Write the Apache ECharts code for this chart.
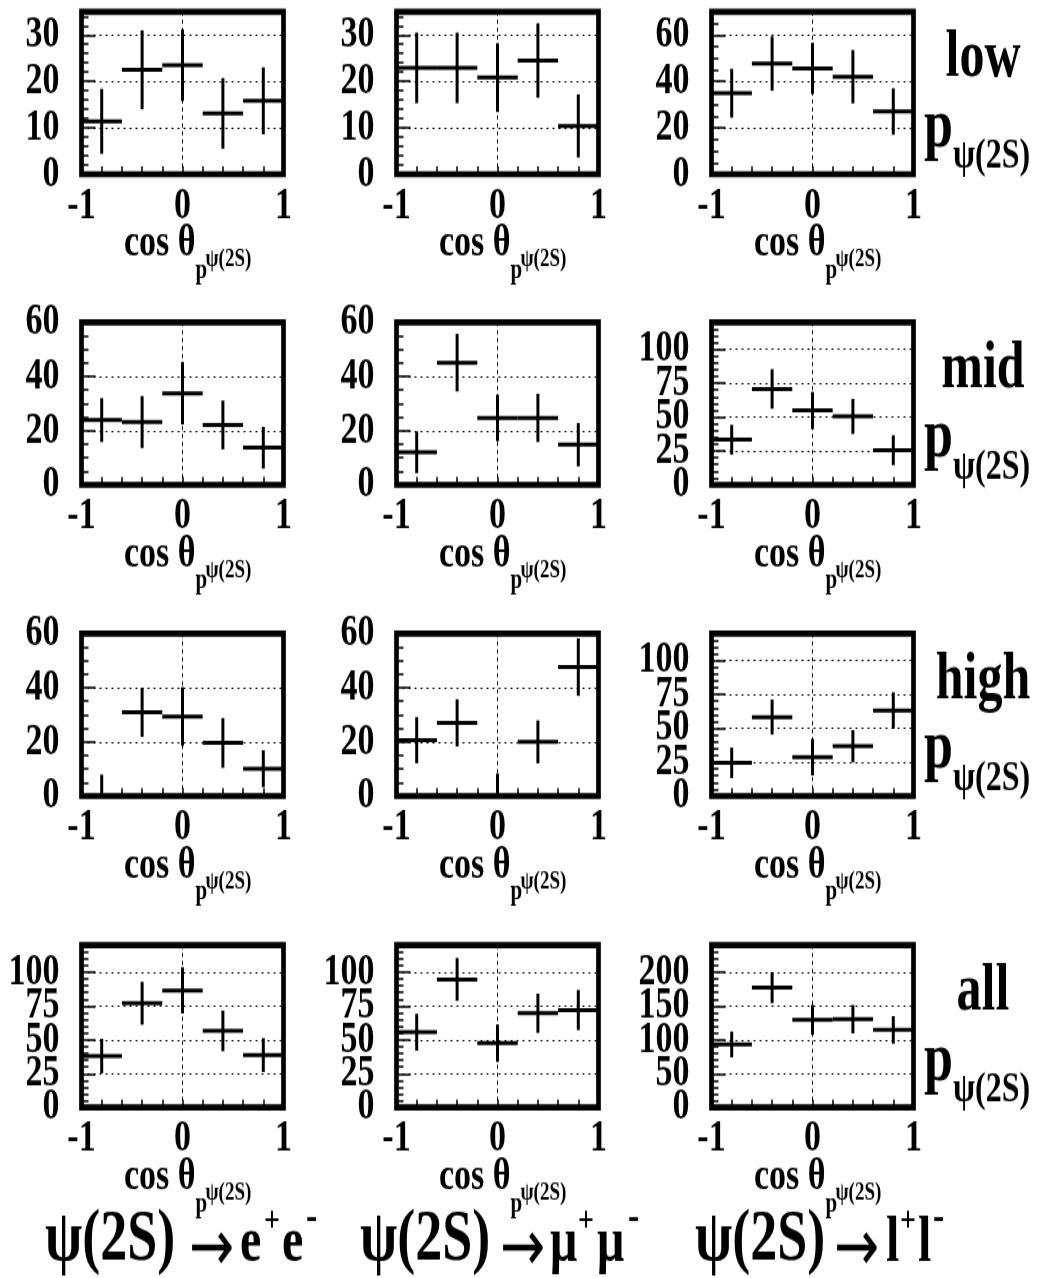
<!DOCTYPE html>
<html><head><meta charset="utf-8">
<script src="https://cdn.jsdelivr.net/npm/echarts@6/dist/echarts.min.js"></script>
<style>
html,body{margin:0;padding:0;background:#fff;overflow:hidden;}
#wrap{width:1041px;height:1278px;overflow:hidden;}
#chart{width:1041px;height:961px;transform:scaleY(1.33);transform-origin:0 0;}
</style></head><body><div id="wrap"><div id="chart"></div></div>
<script>
// ---------------- data ----------------
const binCenters = [-0.8, -0.4, 0, 0.4, 0.8];
const binHalfWidth = 0.2;
const xTickLabels = [-1, 0, 1];
const rowNames = ['low', 'mid', 'high', 'all'];

// low p_psi(2S)
const ee_low = [11.4, 22.5, 23.5, 13.1, 15.8];
const ee_low_err = [7.0, 8.5, 7.7, 7.6, 7.2];
const mm_low = [22.9, 22.9, 20.8, 24.5, 10.4];
const mm_low_err = [7.6, 7.6, 7.4, 8.0, 6.8];
const ll_low = [34.9, 47.7, 45.6, 42.0, 27.0];
const ll_low_err = [10.5, 11.7, 11.0, 11.5, 10.0];
// mid
const ee_mid = [23.9, 23.2, 33.8, 22.1, 13.7];
const ee_mid_err = [8.1, 9.6, 11.5, 9.0, 7.7];
const mm_mid = [12.0, 45.1, 24.7, 24.7, 14.8];
const mm_mid_err = [7.7, 10.6, 8.6, 8.9, 8.0];
const ll_mid = [33.3, 70.8, 54.9, 50.5, 25.5];
const ll_mid_err = [11.0, 14.6, 13.7, 13.0, 11.0];
// high
const ee_high = [0, 30.9, 29.4, 19.6, 10.1];
const ee_high_err = [7.9, 9.1, 10.8, 9.2, 6.8];
const mm_high = [20.6, 27.0, 0, 20.0, 47.6];
const mm_high_err = [8.5, 8.7, 8.3, 7.9, 10.6];
const ll_high = [24.5, 58.3, 28.7, 36.8, 63.2];
const ll_high_err = [11.2, 12.9, 13.5, 11.9, 13.4];
// all
const ee_all = [38.0, 77.0, 86.5, 56.6, 38.7];
const ee_all_err = [12.7, 15.8, 17.0, 15.0, 12.5];
const mm_all = [55.6, 94.6, 47.5, 69.6, 72.0];
const mm_all_err = [13.6, 15.8, 13.8, 14.5, 14.8];
const ll_all = [93.1, 177.0, 129.4, 130.4, 114.7];
const ll_all_err = [19.0, 23.0, 22.0, 21.0, 20.3];

// y axes: max, labelled step, minor step (rows x columns)
const yMax   = [[35, 35, 70], [60, 60, 120], [60, 60, 120], [120, 120, 240]];
const yStep  = [[10, 10, 20], [20, 20, 25], [20, 20, 25], [25, 25, 50]];
const yMinor = [[2, 2, 5], [5, 5, 5], [5, 5, 5], [5, 5, 10]];

const panels = [
  [[ee_low, ee_low_err], [mm_low, mm_low_err], [ll_low, ll_low_err]],
  [[ee_mid, ee_mid_err], [mm_mid, mm_mid_err], [ll_mid, ll_mid_err]],
  [[ee_high, ee_high_err], [mm_high, mm_high_err], [ll_high, ll_high_err]],
  [[ee_all, ee_all_err], [mm_all, mm_all_err], [ll_all, ll_all_err]]
];

// ---------------- layout ----------------
const S = 1.33; // vertical stretch of the whole picture
const FONT = '"Liberation Serif", "Times New Roman", serif';
const colLeft = [81.5, 396.5, 711.5], plotW = 202;
const rowTop = [11.7, 322.3, 633.5, 945], plotH = 162.5;

function renderCross(params, api) {
  const x = api.value(0), y = api.value(1), e = api.value(2);
  const cs = params.coordSys;
  const pL = api.coord([x - binHalfWidth, y]);
  const pR = api.coord([x + binHalfWidth, y]);
  const pT = api.coord([x, y + e]);
  const pB = api.coord([x, y - e]);
  const top = cs.y, bot = cs.y + cs.height;
  const cy = v => Math.max(top, Math.min(bot, v));
  const children = [];
  const yc = pL[1];
  if (yc >= top - 0.5 && yc <= bot + 0.5) {
    children.push({type: 'line', shape: {x1: pL[0], y1: yc, x2: pR[0], y2: yc},
      style: {stroke: '#000', lineWidth: 3}});
  }
  children.push({type: 'line', shape: {x1: pT[0], y1: cy(pT[1]), x2: pB[0], y2: cy(pB[1])},
    style: {stroke: '#000', lineWidth: 3}});
  return {type: 'group', children};
}

function T(text, x, baselinePage, size, align, weight, family) {
  return {type: 'text', x: x, y: baselinePage / S - 0.34 * size, silent: true, z: 10,
    style: {text: text, fill: '#000', fontFamily: family || FONT, fontWeight: weight || 'bold', fontSize: size,
      align: align || 'left', verticalAlign: 'middle'}};
}
function M(text, x, centerPage, size, align, weight, family) {
  return {type: 'text', x: x, y: centerPage / S, silent: true, z: 10,
    style: {text: text, fill: '#000', fontFamily: family || FONT, fontWeight: weight || 'bold', fontSize: size,
      align: align || 'left', verticalAlign: 'middle'}};
}

const labelStyle = {fontFamily: FONT, fontWeight: 'bold', fontSize: 34, color: '#000'};
const grids = [], xAxes = [], yAxes = [], series = [], graphics = [];
for (let r = 0; r < 4; r++) {
  for (let c = 0; c < 3; c++) {
    const i = r * 3 + c;
    const step = yStep[r][c];
    grids.push({left: colLeft[c], top: rowTop[r] / S, width: plotW, height: plotH / S,
      show: true, borderColor: '#000', borderWidth: 4.7, backgroundColor: 'transparent'});
    xAxes.push({gridIndex: i, type: 'value', min: -1, max: 1, interval: 1, position: 'bottom',
      axisLine: {show: false, onZero: false},
      axisTick: {show: true, inside: true, length: 6, lineStyle: {color: '#000', width: 1.5}},
      minorTick: {show: true, splitNumber: 5, length: 6, lineStyle: {color: '#000', width: 1.5}},
      splitLine: {show: true, lineStyle: {color: '#000', width: 1, type: [3, 3]}},
      axisLabel: Object.assign({margin: 7, showMinLabel: true, showMaxLabel: true,
        formatter: v => xTickLabels.indexOf(v) >= 0 ? String(v) : ''}, labelStyle)});
    // main y axis: ticks, grid lines and all labels except the one at zero
    yAxes.push({gridIndex: i, type: 'value', min: 0, max: yMax[r][c], interval: step,
      position: 'left', offset: 0,
      axisLine: {show: false, onZero: false},
      axisTick: {show: true, inside: true, length: 14, lineStyle: {color: '#000', width: 1.5}},
      minorTick: {show: true, splitNumber: Math.round(step / yMinor[r][c]), length: 7,
        lineStyle: {color: '#000', width: 1.5}},
      splitLine: {show: true, lineStyle: {color: '#000', width: 1, type: [2, 4]}},
      axisLabel: Object.assign({margin: 22, hideOverlap: false,
        formatter: v => (v > 0 && Math.abs(v % step) < 1e-9) ? String(v) : ''}, labelStyle)});
    // companion y axis (same side) carrying only the zero label, so no label gets hidden by overlap
    yAxes.push({gridIndex: i, type: 'value', min: 0, max: yMax[r][c], interval: step,
      position: 'left', offset: 0,
      axisLine: {show: false, onZero: false}, axisTick: {show: false}, minorTick: {show: false},
      splitLine: {show: false},
      axisLabel: Object.assign({margin: 22, hideOverlap: false, showMinLabel: true,
        formatter: v => (v === 0) ? '0' : ''}, labelStyle)});
    const vals = panels[r][c][0], errs = panels[r][c][1];
    series.push({type: 'custom', xAxisIndex: i, yAxisIndex: 2 * i, silent: true, z: 5,
      renderItem: renderCross, encode: {x: 0, y: 1},
      data: binCenters.map((x, k) => [x, vals[k], errs[k]])});
    // x axis title: cos theta_{p^{psi(2S)}}
    const cx = colLeft[c] + plotW / 2;
    const fb = rowTop[r] + plotH;
    graphics.push(T('cos θ', cx + 13, fb + 85, 34, 'right'));
    graphics.push(T('p', cx + 13, fb + 106, 21, 'left'));
    graphics.push(T('ψ(2S)', cx + 23, fb + 94, 19, 'left'));
  }
  // row labels
  graphics.push(T(rowNames[r], 983, rowTop[r] + 70, 50, 'center'));
  graphics.push(T('p', 924, rowTop[r] + 140, 52, 'left'));
  graphics.push(T('ψ(2S)', 953, rowTop[r] + 160, 32, 'left'));
}
// bottom labels
const bottomBase = 1266;
[[45, 189, ['e', 'e']], [360, 500, ['μ', 'μ']], [695, 834, ['l', 'l']]].forEach(([x0, xa, ps], c) => {
  graphics.push(T('ψ(2S)', x0, bottomBase, 54, 'left'));
  graphics.push(M('→', xa, 1251, 54, 'left', 'normal', '"DejaVu Sans", sans-serif'));
  const xs = [[240, 264, 282, 306], [550, 578, 597, 628], [886, 900, 918, 933]][c];
  graphics.push(T(ps[0], xs[0], bottomBase, 48, 'left'));
  graphics.push(T('+', xs[1], bottomBase - 32, 28, 'left'));
  graphics.push(T(ps[1], xs[2], bottomBase, 48, 'left'));
  graphics.push(T('-', xs[3], bottomBase - 32, 34, 'left'));
});

const chart = echarts.init(document.getElementById('chart'), null, {renderer: 'canvas'});
chart.setOption({
  animation: false,
  backgroundColor: '#fff',
  grid: grids, xAxis: xAxes, yAxis: yAxes, series: series,
  graphic: {elements: graphics}
});
</script></body></html>
